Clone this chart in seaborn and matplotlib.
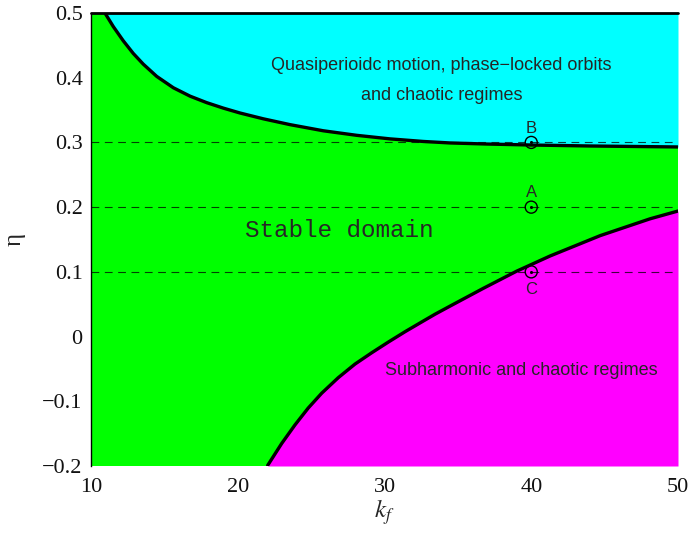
import numpy as np
import pandas as pd
import matplotlib
matplotlib.use("Agg")
import matplotlib.pyplot as plt
import seaborn as sns

# Boundary between stable domain and quasiperiodic region
k_upper = [10.95, 11.52, 12.2, 12.88, 13.56, 14.48, 15.61, 16.75, 17.88, 19.02, 20.15, 21.74,
           23.56, 25.83, 28.1, 30.37, 32.64, 34.46, 37.0, 40.0, 44.0, 50.0]
eta_upper = [0.5, 0.479, 0.457, 0.4375, 0.421, 0.402, 0.3845, 0.3715, 0.3615, 0.353, 0.3455, 0.3365,
             0.3275, 0.318, 0.311, 0.3055, 0.3015, 0.2992, 0.2975, 0.296, 0.2945, 0.293]

# Boundary between stable domain and subharmonic region
k_lower = [22.04, 23.0, 23.9, 24.8, 25.72, 26.85, 27.99, 29.13, 30.26, 31.4, 32.53, 33.44,
           34.46, 36.73, 39.0, 41.28, 44.7, 48.1, 50.0]
eta_lower = [-0.199, -0.165, -0.1365, -0.1105, -0.0875, -0.0635, -0.0425, -0.025, -0.0085, 0.0075, 0.0225, 0.0345,
             0.047, 0.0745, 0.101, 0.1245, 0.156, 0.182, 0.194]

# Sample points
pt_k = [40, 40, 40]
pt_eta = [0.3, 0.2, 0.1]
pt_labels = ["B", "A", "C"]
pt_label_eta = [0.322, 0.222, 0.073]

dashed_levels = [0.1, 0.2, 0.3]

xticks = [10, 20, 30, 40, 50]
yticks = [-0.2, -0.1, 0, 0.1, 0.2, 0.3, 0.4, 0.5]
ytick_labels = ["\u22120.2", "\u22120.1", "0", "0.1", "0.2", "0.3", "0.4", "0.5"]

sns.set_theme(style="white")
plt.rcParams["font.family"] = ["Liberation Serif", "DejaVu Serif"]
plt.rcParams["mathtext.fontset"] = "stix"

fig = plt.figure(figsize=(6.9, 5.38), dpi=100)
ax = fig.add_axes([91/690, 72/538, 587/690, 453/538])
ax.set_xlim(10, 50)
ax.set_ylim(-0.2, 0.5)

GREEN = "#00FF00"
CYAN = "#00FFFF"
MAGENTA = "#FF00FF"

ax.set_facecolor(GREEN)
ku = np.array(k_upper); eu = np.array(eta_upper)
kl = np.array(k_lower); el = np.array(eta_lower)
ax.fill_between(ku, eu, 0.5, color=CYAN, lw=0, zorder=1)
ax.fill_between(kl, -0.2, el, color=MAGENTA, lw=0, zorder=1)

df_u = pd.DataFrame({"k": k_upper, "eta": eta_upper})
df_l = pd.DataFrame({"k": k_lower, "eta": eta_lower})
sns.lineplot(data=df_u, x="k", y="eta", ax=ax, color="black", lw=2.4, sort=False, zorder=4)
sns.lineplot(data=df_l, x="k", y="eta", ax=ax, color="black", lw=2.4, sort=False, zorder=4)
for ln in ax.lines:
    ln.set_solid_joinstyle("round")
    ln.set_solid_capstyle("round")

for lv in dashed_levels:
    ax.axhline(lv, color="black", lw=0.8, ls=(0, (7, 5)), alpha=0.75, zorder=3)

ax.plot([10, 50], [0.5, 0.5], color="black", lw=2.0, clip_on=False, zorder=5)

sns.scatterplot(x=pt_k, y=pt_eta, ax=ax, s=75, facecolor="none", edgecolor="black", linewidth=1.0, zorder=6)
sns.scatterplot(x=pt_k, y=pt_eta, ax=ax, s=5, color="black", linewidth=0, zorder=7)
for k, e, lab in zip(pt_k, pt_label_eta, pt_labels):
    ax.text(k, e, lab, ha="center", va="center", fontsize=12, family=["Liberation Sans", "DejaVu Sans"], zorder=7)

ax.text(33.9, 0.4196, "Quasiperioidc motion, phase\u2212locked orbits", ha="center", va="center",
        fontsize=13, family=["Liberation Sans", "DejaVu Sans"], zorder=7)
ax.text(33.9, 0.373, "and chaotic regimes", ha="center", va="center",
        fontsize=13, family=["Liberation Sans", "DejaVu Sans"], zorder=7)
ax.text(26.95, 0.1646, "Stable domain", ha="center", va="center",
        fontsize=17.5, family=["Liberation Mono", "DejaVu Sans Mono"], zorder=7)
ax.text(39.35, -0.053, "Subharmonic and chaotic regimes", ha="center", va="center",
        fontsize=13, family=["Liberation Sans", "DejaVu Sans"], zorder=7)

ax.set_xticks(xticks)
ax.set_xticklabels([str(t) for t in xticks])
ax.set_yticks(yticks)
ax.set_yticklabels(ytick_labels)
ax.tick_params(axis="both", length=0, labelsize=16, colors="#111111")
ax.tick_params(axis="y", pad=6)
ax.tick_params(axis="x", pad=9)

for s in ["top", "right", "bottom"]:
    ax.spines[s].set_visible(False)
ax.spines["left"].set_color("black")
ax.spines["left"].set_linewidth(1.0)
ax.spines["left"].set_zorder(8)

ax.set_xlabel(r"$k_f$", fontsize=18, labelpad=0)
ax.set_ylabel("\u03b7", fontsize=18, labelpad=12)

fig.savefig("out.png", dpi=100)
